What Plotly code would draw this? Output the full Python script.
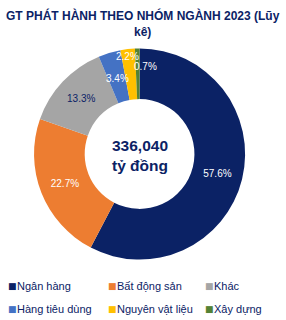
import plotly.graph_objects as go

labels = ["Ngân hàng", "Bất động sản", "Khác", "Hàng tiêu dùng", "Nguyên vật liệu", "Xây dựng"]
values = [57.6, 22.7, 13.3, 3.4, 2.2, 0.7]
colors = ["#0B2265", "#ED7D31", "#A5A5A5", "#4472C4", "#FFC000", "#548235"]
total_text = "336,040<br>tỷ đồng"
title_text = "GT PHÁT HÀNH THEO NHÓM NGÀNH 2023 (Lũy<br>kê)"

NAVY = "#0B2265"
FONT = "Liberation Sans"
W, H = 286, 320

label_colors = ["white", "white", NAVY, "white", "white", "white"]
# small slices get their labels as annotations (placed like the reference, spread out)
small_idx = [3, 4, 5]
small_label_px = [(117, 79), (127, 57), (145, 66)]

fig = go.Figure(go.Pie(
    labels=labels, values=values, sort=False, direction="clockwise", rotation=0,
    hole=0.52,
    marker=dict(colors=colors, line=dict(color="white", width=0)),
    texttemplate=["" if i in small_idx else "%{value:.1f}%" for i in range(len(values))],
    textposition="inside",
    insidetextorientation="horizontal",
    textfont=dict(color=label_colors, size=10, family=FONT),
    domain=dict(x=[0.119, 0.857], y=[0.1875, 0.85]),
    hoverinfo="label+percent",
    showlegend=False,
))

annotations = [
    dict(text="<b>" + title_text + "</b>", x=0.5, y=1, xref="paper", yref="paper",
         xanchor="center", yanchor="top", yshift=-6, showarrow=False,
         font=dict(size=12, color=NAVY, family=FONT)),
    dict(text="<b>" + total_text + "</b>", x=0.488, y=0.515, xref="paper", yref="paper",
         showarrow=False, font=dict(size=15.5, color=NAVY, family=FONT)),
]

for i, (px, py) in zip(small_idx, small_label_px):
    annotations.append(dict(text=f"{values[i]:.1f}%", x=px / W, y=1 - py / H, xref="paper", yref="paper",
                            xanchor="center", yanchor="middle", showarrow=False,
                            font=dict(size=10, color=label_colors[i], family=FONT)))

# custom legend (3 columns x 2 rows)
col_x = [7, 107, 204]
row_y = [286, 309]
for i, (lab, col) in enumerate(zip(labels, colors)):
    cx = col_x[i % 3]
    ry = row_y[i // 3]
    annotations.append(dict(text="■", x=(cx - 1) / W, y=1 - ry / H, xref="paper", yref="paper",
                            xanchor="left", yanchor="middle", showarrow=False,
                            font=dict(size=9, color=col, family="DejaVu Sans")))
    annotations.append(dict(text=lab, x=(cx + 8) / W, y=1 - ry / H, xref="paper", yref="paper",
                            xanchor="left", yanchor="middle", showarrow=False,
                            font=dict(size=11, color=NAVY, family=FONT)))

fig.update_layout(
    width=W, height=H,
    margin=dict(l=0, r=0, t=0, b=0),
    paper_bgcolor="white", plot_bgcolor="white",
    font=dict(family=FONT, color=NAVY),
    annotations=annotations,
)

fig.write_html("out.html")
